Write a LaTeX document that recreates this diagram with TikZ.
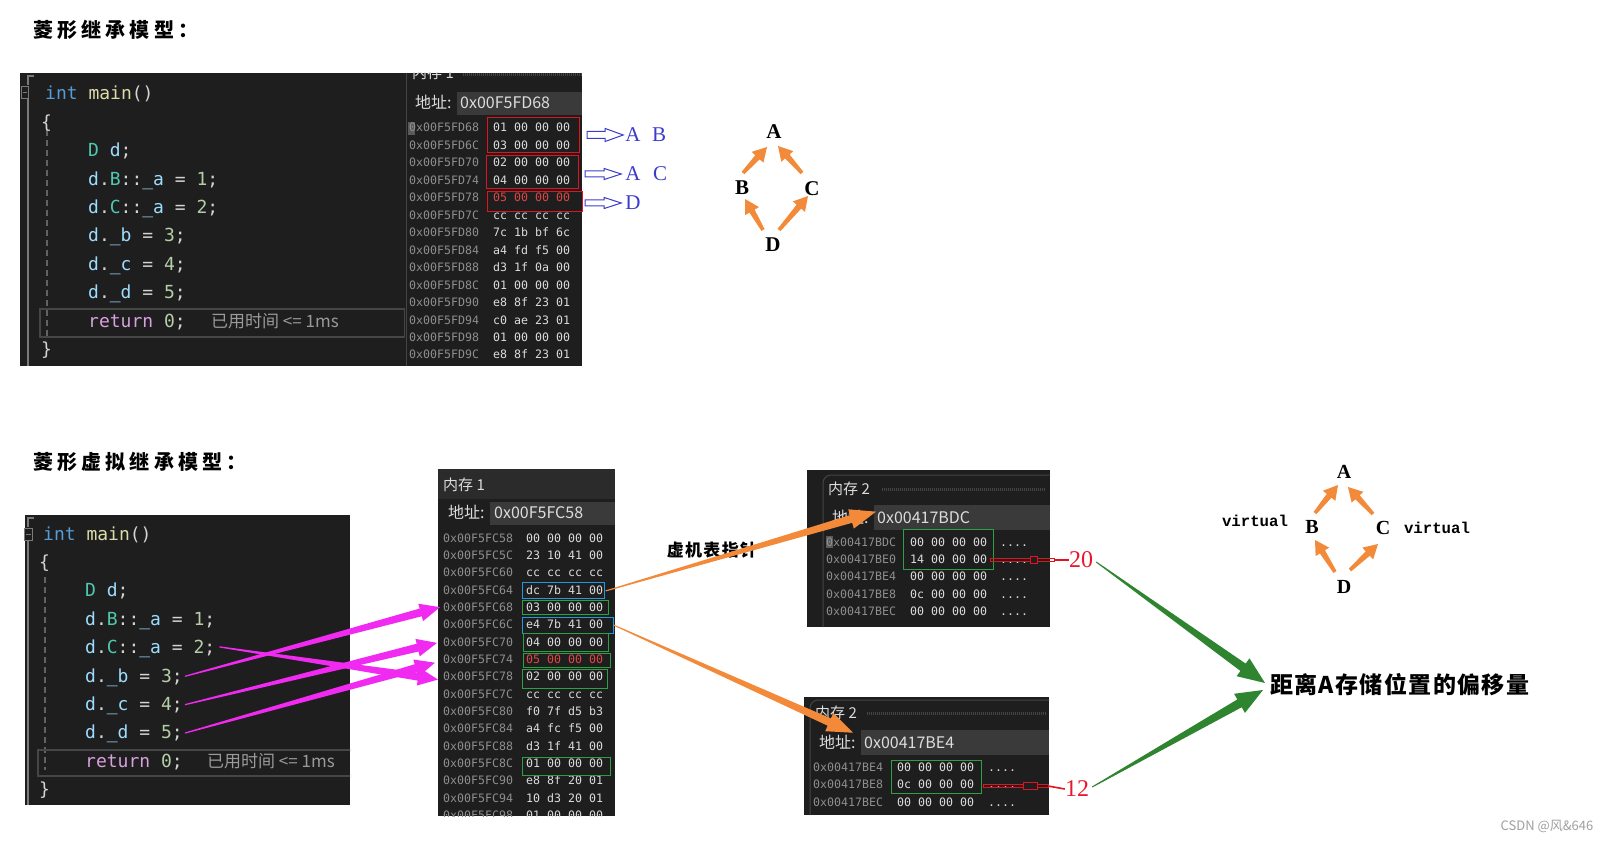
\documentclass[tikz,border=0pt]{standalone}
\usepackage{fontspec}
\usetikzlibrary{calc}
\setmainfont{Liberation Serif}
\newfontfamily\mono{DejaVu Sans Mono}
\newfontfamily\vmono{Liberation Mono}
\newfontfamily\cjk{Noto Sans CJK SC}
\definecolor{panel}{HTML}{1E1E1E}
\definecolor{addrbg}{HTML}{3A3A3A}
\definecolor{titlebg}{HTML}{2B2B2B}
\definecolor{agray}{HTML}{8E8E8E}
\definecolor{bytec}{HTML}{DCDCDC}
\definecolor{bytered}{HTML}{E04646}
\definecolor{ckw}{HTML}{569CD6}
\definecolor{cfn}{HTML}{DCDCAA}
\definecolor{ctx}{HTML}{D4D4D4}
\definecolor{cty}{HTML}{4EC9B0}
\definecolor{cvr}{HTML}{9CDCFE}
\definecolor{cnm}{HTML}{B5CEA8}
\definecolor{crt}{HTML}{D8A0DF}
\definecolor{ccm}{HTML}{9A9A9A}
\definecolor{guide}{HTML}{7A7A7A}
\definecolor{hlbox}{HTML}{464646}
\definecolor{innerb}{HTML}{444444}
\definecolor{cursorc}{HTML}{5A5A5A}
\definecolor{redbox}{HTML}{E0141E}
\definecolor{boxblue}{HTML}{1E9BE0}
\definecolor{boxgreen}{HTML}{2EA043}
\definecolor{magarrow}{HTML}{F02AF0}
\definecolor{orarrow}{HTML}{F28A3A}
\definecolor{grarrow}{HTML}{2F8430}
\definecolor{bluetxt}{HTML}{3C3CCC}
\definecolor{numred}{HTML}{E8182C}
\definecolor{wmark}{HTML}{A0A0A0}
\newcommand\cKW[1]{\textcolor{ckw}{#1}}
\newcommand\cFN[1]{\textcolor{cfn}{#1}}
\newcommand\cTX[1]{\textcolor{ctx}{#1}}
\newcommand\cTY[1]{\textcolor{cty}{#1}}
\newcommand\cVR[1]{\textcolor{cvr}{#1}}
\newcommand\cNM[1]{\textcolor{cnm}{#1}}
\newcommand\cRT[1]{\textcolor{crt}{#1}}
% tapered arrow: #1 options, #2 start, #3 tip, #4 start half width, #5 shaft half width at head, #6 head length, #7 head half width
\newcommand\tarrow[7]{%
  \coordinate (hb) at ($(#3)!#6!(#2)$);
  \path[#1] ($(#2)!#4!90:(#3)$) -- ($(hb)!#5!90:(#3)$) -- ($(hb)!#7!90:(#3)$) -- (#3)
    -- ($(hb)!#7!-90:(#3)$) -- ($(hb)!#5!-90:(#3)$) -- ($(#2)!#4!-90:(#3)$) -- cycle;}
\tikzset{
  code/.style={anchor=base west, inner sep=0pt, font=\mono\fontsize{18}{20}\selectfont},
  cmt/.style={anchor=base west, inner sep=0pt, text=ccm, font=\cjk\fontsize{17}{19}\selectfont},
  maddr/.style={anchor=base west, inner sep=0pt, text=agray, font=\mono\fontsize{11.6}{13}\selectfont},
  mbyte/.style={anchor=base west, inner sep=0pt, text=bytec, font=\mono\fontsize{11.6}{13}\selectfont},
  mui/.style={anchor=base west, inner sep=0pt, text=bytec, font=\cjk\fontsize{16}{18}\selectfont},
  mtitle/.style={anchor=base west, inner sep=0pt, text=bytec, font=\cjk\fontsize{15}{17}\selectfont},
  sect/.style={anchor=base west, inner sep=0pt, font=\cjk\bfseries\fontsize{20}{24}\selectfont\addfontfeature{LetterSpace=21}},
  letter/.style={inner sep=0pt, font=\bfseries\fontsize{21}{24}\selectfont},
  bletter/.style={inner sep=0pt, text=bluetxt, font=\fontsize{21}{24}\selectfont},
  virt/.style={inner sep=0pt, font=\vmono\bfseries\fontsize{15.7}{18}\selectfont},
  rnum/.style={inner sep=0pt, text=numred, font=\fontsize{24}{26}\selectfont},
  membox/.style={draw=#1, line width=1pt, inner sep=0pt},
  guideline/.style={draw=guide, line width=1.4pt},
  dashguide/.style={draw=guide!80!black, line width=1.2pt, dash pattern=on 6pt off 4pt},
  hollowred/.style={draw=redbox, line width=0.9pt},
}
\begin{document}
\begin{tikzpicture}[x=1pt,y=-1pt]
\useasboundingbox (0,0) rectangle (1618,842);
\fill[white] (0,0) rectangle (1618,842);

% ---------------- titles
\node[sect] (ttl1) at (33,38) {菱形继承模型：};
\node[sect] (ttl2) at (33,469) {菱形虚拟继承模型：};

% ================= TOP: code panel
\fill[panel] (20,73) rectangle (405,366);
\draw[guideline] (34,76) -- (28,76) -- (28,85);
\draw[draw=guide, line width=1pt] (21,87) rectangle (28,99);
\draw[draw=guide, line width=1pt] (22.5,93) -- (26.5,93);
\draw[guideline] (28,99) -- (28,366);
\draw[dashguide] (47,130) -- (47,340);
\draw[draw=hlbox, line width=2pt] (40,309) rectangle (405,337);
\node[code] (t0) at (45,100) {\cKW{int} \cFN{main}\cTX{()}};
\node[code] (t1) at (41,128.4) {\cTX{\{}};
\node[code] (t2) at (88,156.8) {\cTY{D} \cVR{d}\cTX{;}};
\node[code] (t3) at (88,185.2) {\cVR{d}\cTX{.}\cTY{B}\cTX{::}\cVR{\_a} \cTX{=} \cNM{1}\cTX{;}};
\node[code] (t4) at (88,213.6) {\cVR{d}\cTX{.}\cTY{C}\cTX{::}\cVR{\_a} \cTX{=} \cNM{2}\cTX{;}};
\node[code] (t5) at (88,242) {\cVR{d}\cTX{.}\cVR{\_b} \cTX{=} \cNM{3}\cTX{;}};
\node[code] (t6) at (88,270.4) {\cVR{d}\cTX{.}\cVR{\_c} \cTX{=} \cNM{4}\cTX{;}};
\node[code] (t7) at (88,298.8) {\cVR{d}\cTX{.}\cVR{\_d} \cTX{=} \cNM{5}\cTX{;}};
\node[code] (t8) at (88,327.2) {\cRT{return} \cNM{0}\cTX{;}};
\node[cmt] (tcm) at (211,327.2) {已用时间 <= 1ms};
\node[code] (t9) at (41,355.6) {\cTX{\}}};

% ================= TOP: memory panel
\fill[panel] (405,73) rectangle (582,366);
\draw[draw=innerb, line width=1pt] (406,73) -- (406,366);
\begin{scope}
\clip (405,73) rectangle (582,366);
\node[mtitle] (tmt) at (412,79) {内存 1};
\draw[draw=innerb, line width=3pt, dash pattern=on 1pt off 1pt] (463,75) -- (582,75);
\end{scope}
\node[mui] (tdz) at (415,108.5) {地址:};
\fill[addrbg] (457,92) rectangle (582,115);
\node[mui] (tadr) at (460,108.5) {0x00F5FD68};
\fill[cursorc] (408,122) rectangle (415,135);
\foreach \ad/\by/\cl [count=\i from 0] in {68/01 00 00 00/bytec,6C/03 00 00 00/bytec,70/02 00 00 00/bytec,74/04 00 00 00/bytec,78/05 00 00 00/bytered,7C/cc cc cc cc/bytec,80/7c 1b bf 6c/bytec,84/a4 fd f5 00/bytec,88/d3 1f 0a 00/bytec,8C/01 00 00 00/bytec,90/e8 8f 23 01/bytec,94/c0 ae 23 01/bytec,98/01 00 00 00/bytec,9C/e8 8f 23 01/bytec}{
  \node[maddr] (ta\i) at (409,{132+17.46*\i}) {0x00F5FD\ad};
  \node[mbyte, text=\cl] (tb\i) at (493,{132+17.46*\i}) {\by};
}
\node[membox=redbox, minimum width=92, minimum height=35] (rb1) at (533,135.5) {};
\node[membox=redbox, minimum width=92, minimum height=33] (rb2) at (532,172.5) {};
\node[membox=redbox, minimum width=95, minimum height=20] (rb3) at (534.5,202) {};

% blue hollow arrows and labels
\node[bletter] (lA1) at (633,135) {A};
\node[bletter] (lB1) at (659,135) {B};
\node[bletter] (lA2) at (633,174) {A};
\node[bletter] (lC2) at (660,174) {C};
\node[bletter] (lD3) at (633,203) {D};
\coordinate (ha1s) at (587,135);
\coordinate (ha2s) at (585,174);
\coordinate (ha3s) at (585,203);
\coordinate (ha1e) at ($(lA1.west)+(-2,0)$);
\coordinate (ha2e) at ($(lA2.west)+(-4,0)$);
\coordinate (ha3e) at ($(lD3.west)+(-4,0)$);
\tarrow{draw=bluetxt, line width=1pt}{ha1s}{ha1e}{3.5pt}{3.5pt}{18pt}{6.5pt}
\tarrow{draw=bluetxt, line width=1pt}{ha2s}{ha2e}{3pt}{3pt}{17pt}{5.5pt}
\tarrow{draw=bluetxt, line width=1pt}{ha3s}{ha3e}{3pt}{3pt}{17pt}{5.5pt}

% top diamond
\node[letter] (dA) at (774,132) {A};
\node[letter] (dB) at (742,188) {B};
\node[letter] (dC) at (812,189) {C};
\node[letter] (dD) at (773,245) {D};
\coordinate (dBA1) at (743,173); \coordinate (dBA2) at (767,147);
\coordinate (dCA1) at (802,173); \coordinate (dCA2) at (778,146);
\coordinate (dDB1) at (763,230); \coordinate (dDB2) at (745,199);
\coordinate (dDC1) at (779,230); \coordinate (dDC2) at (808,196);
\tarrow{fill=orarrow}{dBA1}{dBA2}{1.8pt}{3pt}{14pt}{8pt}
\tarrow{fill=orarrow}{dCA1}{dCA2}{1.8pt}{3pt}{14pt}{8pt}
\tarrow{fill=orarrow}{dDB1}{dDB2}{1.8pt}{3pt}{14pt}{8pt}
\tarrow{fill=orarrow}{dDC1}{dDC2}{1.8pt}{3pt}{14pt}{8pt}

% ================= BOTTOM: code panel
\fill[panel] (25,515) rectangle (350,805);
\draw[guideline] (34,518) -- (28,518) -- (28,527);
\draw[draw=guide, line width=1pt] (24,528) rectangle (32,540);
\draw[draw=guide, line width=1pt] (25.5,534) -- (30.5,534);
\draw[guideline] (28,540) -- (28,805);
\draw[dashguide] (45,577) -- (45,770);
\begin{scope}
\clip (25,515) rectangle (350,805);
\draw[draw=hlbox, line width=2pt] (38,750) rectangle (360,776);
\node[cmt] (bcm) at (207,767.2) {已用时间 <= 1ms};
\end{scope}
\node[code] (b0) at (43,540) {\cKW{int} \cFN{main}\cTX{()}};
\node[code] (b1) at (39,568.4) {\cTX{\{}};
\node[code] (b2) at (85,596.8) {\cTY{D} \cVR{d}\cTX{;}};
\node[code] (b3) at (85,625.2) {\cVR{d}\cTX{.}\cTY{B}\cTX{::}\cVR{\_a} \cTX{=} \cNM{1}\cTX{;}};
\node[code] (bC) at (85,653.6) {\cVR{d}\cTX{.}\cTY{C}\cTX{::}\cVR{\_a} \cTX{=} \cNM{2}\cTX{;}};
\node[code] (bb) at (85,682) {\cVR{d}\cTX{.}\cVR{\_b} \cTX{=} \cNM{3}\cTX{;}};
\node[code] (bc) at (85,710.4) {\cVR{d}\cTX{.}\cVR{\_c} \cTX{=} \cNM{4}\cTX{;}};
\node[code] (bd) at (85,738.8) {\cVR{d}\cTX{.}\cVR{\_d} \cTX{=} \cNM{5}\cTX{;}};
\node[code] (b8) at (85,767.2) {\cRT{return} \cNM{0}\cTX{;}};
\node[code] (b9) at (39,795.6) {\cTX{\}}};

% ================= BOTTOM: memory 1
\fill[panel] (438,469) rectangle (615,816);
\fill[titlebg] (438,469) rectangle (615,499);
\node[mtitle] (bmt) at (443,490) {内存 1};
\node[mui] (bdz) at (448,518.5) {地址:};
\fill[addrbg] (490,502) rectangle (615,525);
\node[mui] (badr) at (494,518.5) {0x00F5FC58};
\begin{scope}
\clip (438,469) rectangle (615,816);
\foreach \ad/\by/\cl [count=\i from 0] in {58/00 00 00 00/bytec,5C/23 10 41 00/bytec,60/cc cc cc cc/bytec,64/dc 7b 41 00/bytec,68/03 00 00 00/bytec,6C/e4 7b 41 00/bytec,70/04 00 00 00/bytec,74/05 00 00 00/bytered,78/02 00 00 00/bytec,7C/cc cc cc cc/bytec,80/f0 7f d5 b3/bytec,84/a4 fc f5 00/bytec,88/d3 1f 41 00/bytec,8C/01 00 00 00/bytec,90/e8 8f 20 01/bytec,94/10 d3 20 01/bytec,98/01 00 00 00/bytec}{
  \node[maddr] (bm\i) at (443,{542+17.35*\i}) {0x00F5FC\ad};
  \node[mbyte, text=\cl] (bv\i) at (526,{542+17.35*\i}) {\by};
}
\end{scope}
\node[membox=boxblue, minimum width=82, minimum height=16] (bx64) at (563,590) {};
\node[membox=boxgreen, minimum width=86, minimum height=14] (gx68) at (565,607) {};
\node[membox=boxblue, minimum width=91, minimum height=16] (bx6C) at (567.5,625) {};
\node[membox=boxgreen, minimum width=85, minimum height=18] (gx70) at (565.5,642) {};
\node[membox=boxgreen, minimum width=87, minimum height=14] (gx74) at (566.5,660) {};
\node[membox=boxgreen, minimum width=85, minimum height=19] (gx78) at (564.5,678.5) {};
\node[membox=boxgreen, minimum width=88, minimum height=18] (gx8C) at (566,766) {};

% ================= memory 2 (upper)
\fill[panel] (807,470) rectangle (1050,627);
\draw[draw=innerb, line width=1pt, rounded corners=8pt] (823,627) |- (1050,475);
\node[mtitle] (m2t) at (828,494) {内存 2};
\draw[draw=innerb, line width=3pt, dash pattern=on 1pt off 1pt] (882,489) -- (1046,489);
\node[mui] (m2dz) at (832,523.5) {地址:};
\fill[addrbg] (874,505) rectangle (1050,530);
\node[mui] (m2adr) at (877,523.5) {0x00417BDC};
\fill[cursorc] (826,536) rectangle (833,548);
\foreach \ad/\by [count=\i from 0] in {DC/00 00 00 00,E0/14 00 00 00,E4/00 00 00 00,E8/0c 00 00 00,EC/00 00 00 00}{
  \node[maddr] (ua\i) at (826,{546+17.4*\i}) {0x00417B\ad};
  \node[mbyte] (ub\i) at (910,{546+17.4*\i}) {\by};
  \node[mbyte] (ud\i) at (1000,{546+17.4*\i}) {....};
}
\node[membox=boxgreen, minimum width=90, minimum height=40] (ug) at (948,549) {};

% ================= memory 2 (lower)
\fill[panel] (804,697) rectangle (1049,815);
\draw[draw=innerb, line width=1pt, rounded corners=8pt] (810,815) |- (1049,700);
\node[mtitle] (l2t) at (815,718) {内存 2};
\draw[draw=innerb, line width=3pt, dash pattern=on 1pt off 1pt] (867,713) -- (1046,713);
\node[mui] (l2dz) at (819,748.5) {地址:};
\fill[addrbg] (861,730) rectangle (1049,755);
\node[mui] (l2adr) at (864,748.5) {0x00417BE4};
\foreach \ad/\by [count=\i from 0] in {E4/00 00 00 00,E8/0c 00 00 00,EC/00 00 00 00}{
  \node[maddr] (la\i) at (813,{771+17.5*\i}) {0x00417B\ad};
  \node[mbyte] (lb\i) at (897,{771+17.5*\i}) {\by};
  \node[mbyte] (ld\i) at (988,{771+17.5*\i}) {....};
}
\node[membox=boxgreen, minimum width=90, minimum height=33] (lg) at (936,776.5) {};

% red numbers and hollow connectors
\node[rnum] (n20) at (1081,560) {20};
\node[rnum] (n12) at (1077,789) {12};
\draw[hollowred] (990,558.3) rectangle (1030,561.7);
\draw[hollowred] (1030,556.5) rectangle (1037,563.5);
\draw[hollowred] (1037,558.3) rectangle (1054,561.7);
\draw[draw=redbox, line width=1.6pt] (1054,560) -- (n20.west);
\draw[hollowred] (983,784.3) rectangle (1023,787.7);
\draw[hollowred] (1023,782.5) rectangle (1037,789.5);
\draw[hollowred] (1037,784.3) rectangle (1048,787.7);
\draw[draw=redbox, line width=1.6pt] (1048,786) -- (n12.west);

% label for vptr
\node[inner sep=0pt, font=\cjk\bfseries\fontsize{17}{19}\selectfont\addfontfeature{LetterSpace=8}] (vp) at (712,550) {虚机表指针};

% bottom-right diamond
\node[letter, font=\bfseries\fontsize{20}{22}\selectfont] (eA) at (1344,472) {A};
\node[letter, font=\bfseries\fontsize{20}{22}\selectfont] (eB) at (1312,527) {B};
\node[letter, font=\bfseries\fontsize{20}{22}\selectfont] (eC) at (1383,528) {C};
\node[letter, font=\bfseries\fontsize{20}{22}\selectfont] (eD) at (1344,587) {D};
\node[virt] (v1) at (1255,521) {virtual};
\node[virt] (v2) at (1437,528) {virtual};
\coordinate (eBA1) at (1315,513); \coordinate (eBA2) at (1338,485);
\coordinate (eCA1) at (1373,514); \coordinate (eCA2) at (1348,487);
\coordinate (eDB1) at (1335,572); \coordinate (eDB2) at (1315,540);
\coordinate (eDC1) at (1350,570); \coordinate (eDC2) at (1378,544);
\tarrow{fill=orarrow}{eBA1}{eBA2}{1.8pt}{3pt}{14pt}{8pt}
\tarrow{fill=orarrow}{eCA1}{eCA2}{1.8pt}{3pt}{14pt}{8pt}
\tarrow{fill=orarrow}{eDB1}{eDB2}{1.8pt}{3pt}{14pt}{8pt}
\tarrow{fill=orarrow}{eDC1}{eDC2}{1.8pt}{3pt}{14pt}{8pt}

% offset label
\node[anchor=west, inner sep=0pt, font=\cjk\bfseries\fontsize{23}{26}\selectfont\addfontfeature{LetterSpace=6}] (off) at (1270,685) {距离A存储位置的偏移量};

% ---------- magenta arrows (code -> memory)
\coordinate (sb) at ($(bb.east)+(2,-1)$);
\coordinate (sc) at ($(bc.east)+(2,-1)$);
\coordinate (sd) at ($(bd.east)+(2,-1)$);
\coordinate (sC) at ($(bC.east)+(4,-2)$);
\coordinate (pb) at ($(bm4.west)+(-3,0)$);
\coordinate (pc) at ($(bm6.west)+(-6,1)$);
\coordinate (pd) at ($(bm7.west)+(-8,3.5)$);
\coordinate (pC) at ($(bm8.west)+(-5,3)$);
\tarrow{fill=magarrow}{sb}{pb}{0.6pt}{4pt}{20pt}{9pt}
\tarrow{fill=magarrow}{sc}{pc}{0.6pt}{4pt}{20pt}{9pt}
\tarrow{fill=magarrow}{sd}{pd}{0.6pt}{4pt}{20pt}{9pt}
\tarrow{fill=magarrow}{sC}{pC}{0.6pt}{4pt}{20pt}{9pt}

% ---------- orange arrows (vbptr -> vbtable)
\coordinate (o1s) at ($(bx64.east)+(1,1)$);
\coordinate (o1e) at ($(m2adr.west)+(-1,-6)$);
\coordinate (o2s) at ($(bx6C.east)+(0,0)$);
\coordinate (o2e) at ($(l2adr.west)+(-11,-10)$);
\tarrow{fill=orarrow}{o1s}{o1e}{0.5pt}{4pt}{26pt}{10pt}
\tarrow{fill=orarrow}{o2s}{o2e}{0.5pt}{4pt}{26pt}{10pt}

% ---------- green arrows (offsets -> label)
\coordinate (g1s) at ($(n20.east)+(3,2)$);
\coordinate (g2s) at ($(n12.east)+(3,-2)$);
\coordinate (g1e) at ($(off.west)+(-5,-2)$);
\coordinate (g2e) at ($(off.west)+(-7,5)$);
\tarrow{fill=grarrow}{g1s}{g1e}{0.5pt}{4.5pt}{27pt}{11pt}
\tarrow{fill=grarrow}{g2s}{g2e}{0.5pt}{4.5pt}{27pt}{11pt}

% watermark
\node[inner sep=0pt, text=wmark, font=\cjk\fontsize{13}{15}\selectfont] (wm) at (1547,826) {CSDN @风\&646};
\end{tikzpicture}
\end{document}
